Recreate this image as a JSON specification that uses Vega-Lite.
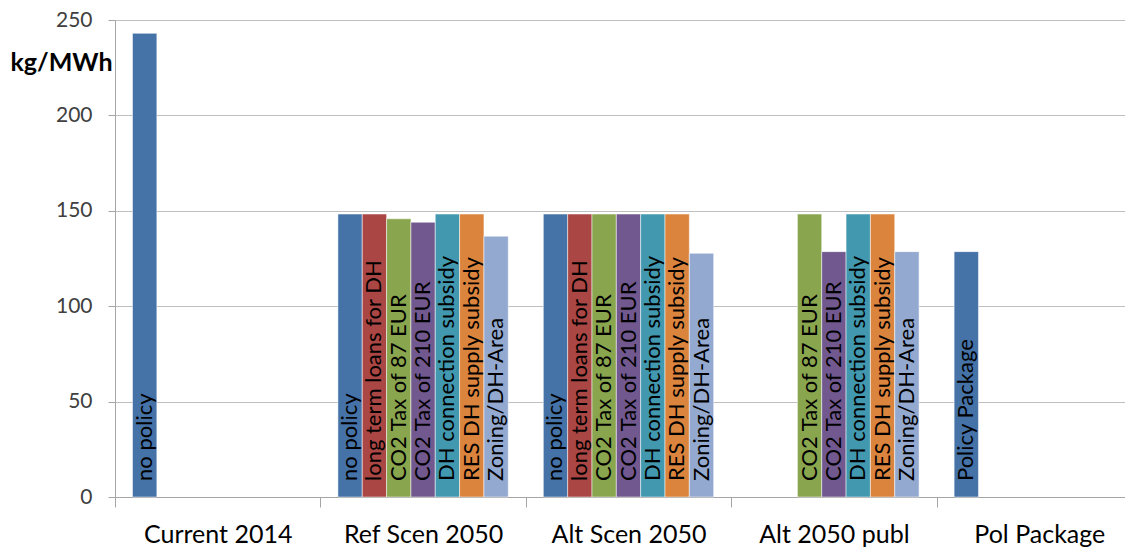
{
  "$schema": "https://vega.github.io/schema/vega-lite/v6.json",
  "autosize": "none",
  "width": 1003,
  "height": 477,
  "padding": {"left": 115, "top": 20, "right": 7, "bottom": 52},
  "background": "white",
  "config": {
    "view": {"stroke": null},
    "font": "Lato"
  },
  "data": {
    "values": [
      {"scenario": "Current 2014", "policy": "no policy", "label": "no policy", "value": 243},
      {"scenario": "Ref Scen 2050", "policy": "no policy", "label": "no policy", "value": 148.3},
      {"scenario": "Ref Scen 2050", "policy": "long term loans for DH", "label": "long term loans for DH", "value": 148.3},
      {"scenario": "Ref Scen 2050", "policy": "CO2 Tax of 87 EUR", "label": "CO2 Tax of 87 EUR", "value": 145.8},
      {"scenario": "Ref Scen 2050", "policy": "CO2 Tax of 210 EUR", "label": "CO2 Tax of 210 EUR", "value": 144},
      {"scenario": "Ref Scen 2050", "policy": "DH connection subsidy", "label": "DH connection subsidy", "value": 148.3},
      {"scenario": "Ref Scen 2050", "policy": "RES DH supply subsidy", "label": "RES DH supply subsidy", "value": 148.3},
      {"scenario": "Ref Scen 2050", "policy": "Zoning/DH-Area", "label": "Zoning/DH-Area", "value": 136.7},
      {"scenario": "Alt Scen 2050", "policy": "no policy", "label": "no policy", "value": 148.3},
      {"scenario": "Alt Scen 2050", "policy": "long term loans for DH", "label": "long term loans for DH", "value": 148.3},
      {"scenario": "Alt Scen 2050", "policy": "CO2 Tax of 87 EUR", "label": "CO2 Tax of 87 EUR", "value": 148.3},
      {"scenario": "Alt Scen 2050", "policy": "CO2 Tax of 210 EUR", "label": "CO2 Tax of 210 EUR", "value": 148.3},
      {"scenario": "Alt Scen 2050", "policy": "DH connection subsidy", "label": "DH connection subsidy", "value": 148.3},
      {"scenario": "Alt Scen 2050", "policy": "RES DH supply subsidy", "label": "RES DH supply subsidy", "value": 148.3},
      {"scenario": "Alt Scen 2050", "policy": "Zoning/DH-Area", "label": "Zoning/DH-Area", "value": 127.7},
      {"scenario": "Alt 2050 publ", "policy": "CO2 Tax of 87 EUR", "label": "CO2 Tax of 87 EUR", "value": 148.3},
      {"scenario": "Alt 2050 publ", "policy": "CO2 Tax of 210 EUR", "label": "CO2 Tax of 210 EUR", "value": 128.6},
      {"scenario": "Alt 2050 publ", "policy": "DH connection subsidy", "label": "DH connection subsidy", "value": 148.3},
      {"scenario": "Alt 2050 publ", "policy": "RES DH supply subsidy", "label": "RES DH supply subsidy", "value": 148.3},
      {"scenario": "Alt 2050 publ", "policy": "Zoning/DH-Area", "label": "Zoning/DH-Area", "value": 128.6},
      {"scenario": "Pol Package", "policy": "no policy", "label": "Policy Package", "value": 128.6}
    ]
  },
  "encoding": {
    "x": {
      "field": "scenario",
      "type": "nominal",
      "sort": ["Current 2014", "Ref Scen 2050", "Alt Scen 2050", "Alt 2050 publ", "Pol Package"],
      "scale": {"paddingInner": 0, "paddingOuter": 0, "range": [0, 1027]},
      "axis": {
        "title": null,
        "labelAngle": 0,
        "tickBand": "extent",
        "labelFontSize": 25,
        "labelColor": "#000000",
        "labelFont": "Lato",
        "labelPadding": 15,
        "tickSize": 10,
        "tickColor": "#a6a6a6",
        "domainColor": "#a6a6a6",
        "grid": false
      }
    },
    "xOffset": {
      "field": "policy",
      "type": "nominal",
      "scale": {
        "domain": ["no policy", "long term loans for DH", "CO2 Tax of 87 EUR", "CO2 Tax of 210 EUR", "DH connection subsidy", "RES DH supply subsidy", "Zoning/DH-Area"],
        "paddingInner": 0,
        "paddingOuter": 0.72
      }
    }
  },
  "layer": [
    {
      "mark": {"type": "bar", "stroke": "#ffffff", "strokeOpacity": 0.5, "strokeWidth": 1},
      "encoding": {
        "y": {
          "field": "value",
          "type": "quantitative",
          "scale": {"domain": [0, 250], "nice": false},
          "axis": {
            "values": [0, 50, 100, 150, 200, 250],
            "title": "kg/MWh",
            "titleAngle": 0,
            "titleX": -105,
            "titleY": 55,
            "titleAlign": "left",
            "titleFontSize": 25,
            "titleFontWeight": "bold",
            "titleColor": "#000000",
            "titleFont": "Lato",
            "labelFontSize": 21,
            "labelColor": "#404040",
            "labelFont": "Lato",
            "labelPadding": 16,
            "tickSize": 7,
            "tickColor": "#a6a6a6",
            "domainColor": "#a6a6a6",
            "gridColor": "#bfbfbf",
            "gridWidth": 1
          }
        },
        "color": {
          "field": "policy",
          "type": "nominal",
          "scale": {
            "domain": ["no policy", "long term loans for DH", "CO2 Tax of 87 EUR", "CO2 Tax of 210 EUR", "DH connection subsidy", "RES DH supply subsidy", "Zoning/DH-Area"],
            "range": ["#4572A7", "#AA4643", "#89A54E", "#71588F", "#4198AF", "#DB843D", "#93A9CF"]
          },
          "legend": null
        }
      }
    },
    {
      "mark": {"type": "text", "angle": 270, "align": "left", "baseline": "middle", "dx": 16, "fontSize": 22, "font": "Lato", "color": "#000000"},
      "encoding": {
        "y": {"datum": 0, "type": "quantitative"},
        "text": {"field": "label"}
      }
    }
  ]
}
